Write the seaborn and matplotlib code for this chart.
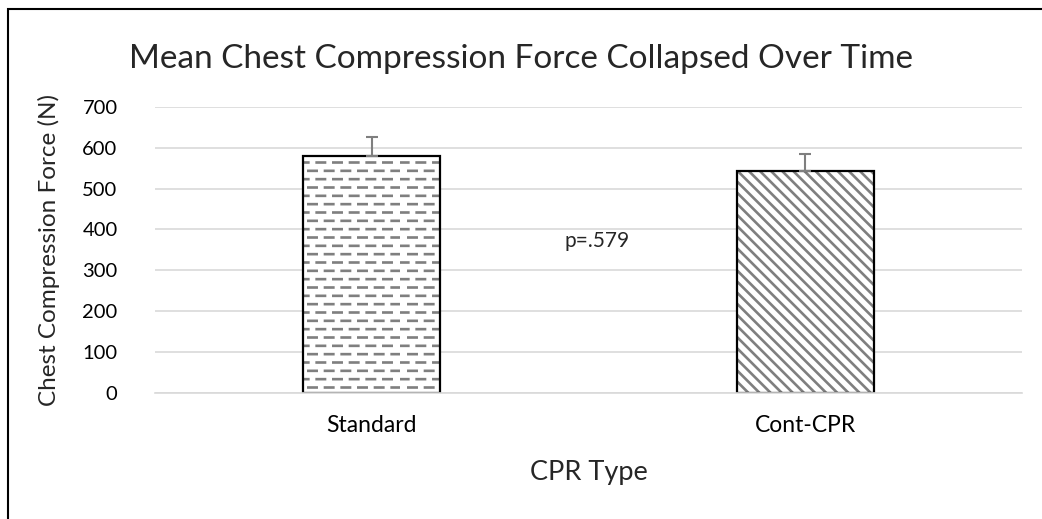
import matplotlib
matplotlib.use("Agg")
import matplotlib.hatch as mhatch
import matplotlib.pyplot as plt
import pandas as pd
import seaborn as sns
from matplotlib.path import Path

cpr_types = ["Standard", "Cont-CPR"]
mean_force = [579, 544]
force_err = [47, 41]
hatches = ["-", "\\\\\\"]
p_label = "p=.579"


class DashedHorizontalHatch(mhatch.HatchPatternBase):
    # Excel-like "dashed horizontal" fill: staggered short dashes
    def __init__(self, hatch, density):
        n = hatch.count("-") + hatch.count("+")
        self.rows = 12 * n
        self.dashes = 6
        self.num_vertices = self.rows * self.dashes * 2

    def set_vertices_and_codes(self, vertices, codes):
        i = 0
        for r in range(self.rows):
            y = (r + 0.5) / self.rows
            shift = 0.5 if r % 2 else 0.0
            for d in range(self.dashes):
                x0 = (d + shift) / self.dashes
                vertices[i] = (x0, y)
                vertices[i + 1] = (x0 + 0.5 / self.dashes, y)
                codes[i] = Path.MOVETO
                codes[i + 1] = Path.LINETO
                i += 2


mhatch._hatch_types = [DashedHorizontalHatch if t is mhatch.HorizontalHatch else t
                       for t in mhatch._hatch_types]


def main() -> None:
    sns.set_theme(style="white")
    plt.rcParams["font.family"] = ["Lato", "DejaVu Sans"]
    plt.rcParams["hatch.linewidth"] = 1.9

    fig = plt.figure(figsize=(10.42, 5.19), dpi=100)
    ax = fig.add_axes([0.1488, 0.2437, 0.832, 0.5501])

    df = pd.DataFrame({"type": cpr_types, "force": mean_force})
    sns.barplot(data=df, x="type", y="force", color="white",
                edgecolor="#7f7f7f", linewidth=0, width=0.316, ax=ax)
    for bar, h in zip(list(ax.patches), hatches):
        bar.set_hatch(h)
        bar.set_facecolor("white")
        ax.add_patch(plt.Rectangle(bar.get_xy(), bar.get_width(), bar.get_height(),
                                   fill=False, edgecolor="black", linewidth=1.6,
                                   zorder=bar.get_zorder() + 0.1))

    ax.errorbar(range(len(cpr_types)), mean_force,
                yerr=[[0] * len(force_err), force_err],
                fmt="none", ecolor="#7f7f7f", elinewidth=1.5,
                capsize=4, capthick=1.5, zorder=3)

    ax.text(0.52, 371, p_label, ha="center", va="center", fontsize=15)

    ax.set_xlim(-0.5, 1.5)
    ax.set_ylim(0, 700)
    ax.set_yticks(range(0, 701, 100))
    ax.yaxis.grid(True, color="#d9d9d9", linewidth=1.2)
    ax.set_axisbelow(True)
    for side in ("left", "right", "top"):
        ax.spines[side].set_visible(False)
    ax.spines["bottom"].set_color("#d9d9d9")
    ax.spines["bottom"].set_linewidth(1.2)
    ax.tick_params(axis="both", length=0, colors="black")
    ax.tick_params(axis="x", pad=16, labelsize=16.5)
    ax.tick_params(axis="y", pad=27, labelsize=14.5)

    ax.set_xlabel("CPR Type", fontsize=19.5)
    ax.xaxis.set_label_coords(0.5, -0.235)
    ax.set_ylabel("Chest Compression Force (N)", fontsize=17.5)
    ax.yaxis.set_label_coords(-0.11, 0.5)
    fig.suptitle("Mean Chest Compression Force Collapsed Over Time",
                 fontsize=24, x=0.5, y=0.887, va="center")

    fig.patches.append(plt.Rectangle((0.0072, -0.1), 1.2, 0.1 + 0.9836,
                                     transform=fig.transFigure, fill=False,
                                     edgecolor="black", linewidth=1.5))
    fig.savefig("out.png", dpi=100)


if __name__ == "__main__":
    main()
